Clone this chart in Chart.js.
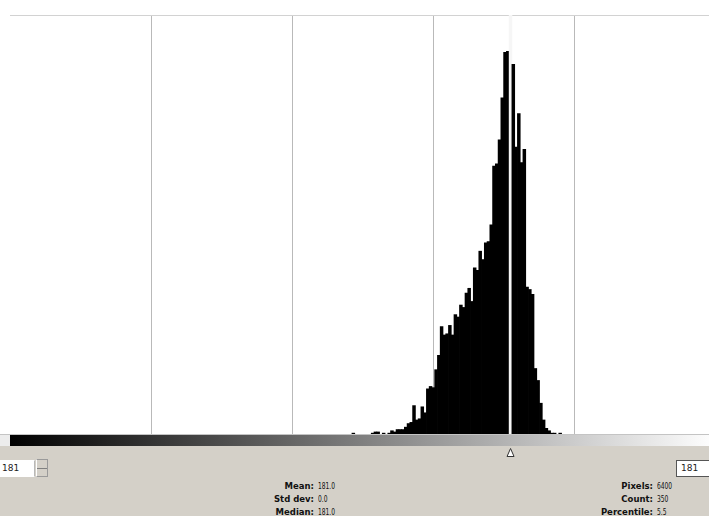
<!DOCTYPE html>
<html>
<head>
<meta charset="utf-8">
<script src="https://cdn.jsdelivr.net/npm/chart.js@4/dist/chart.umd.min.js"></script>
<style>
  html, body { margin: 0; padding: 0; }
  body { width: 709px; height: 516px; overflow: hidden; position: relative; background: #d4d0c8; font-family: "DejaVu Sans", sans-serif; }
  #plotbg { position: absolute; left: 0; top: 0; width: 709px; height: 434px; background: #fff; }
  #hist { position: absolute; left: 0; top: 0; }
  #baseline { position: absolute; left: 0; top: 434px; width: 709px; height: 1px; background: #c4c4c4; }
  #strip { position: absolute; left: 0; top: 435px; width: 10px; height: 11px; background: #ececec; }
  #ramp { position: absolute; left: 10px; top: 435px; width: 706px; height: 11px; background: linear-gradient(to right, #000, #fff); }
  #marker { position: absolute; left: 0; top: 447px; }
  .entry { position: absolute; top: 460px; height: 17px; background: #fff; box-sizing: border-box; font: 9px "DejaVu Sans", sans-serif; color: #222; line-height: 15px; }
  #lo { left: 0; width: 35px; border: 1px solid #fff; border-right: 1px solid #b8b8b8; padding-left: 1px; }
  #spin { position: absolute; left: 36px; top: 459px; width: 12px; height: 18px; box-sizing: border-box; border: 1px solid #9a9a9a; border-left: 1px solid #fff; background: #d4d0c8; }
  #spin::after { content: ""; position: absolute; left: 0; top: 8px; width: 10px; height: 1px; background: #808080; }
  #hi { left: 676px; width: 40px; border: 1px solid #555; padding-left: 4px; }
  .stat { position: absolute; font-size: 8.5px; line-height: 10px; color: #111; white-space: nowrap; }
  .lab { font-weight: bold; text-align: right; }
  .val { transform: scaleX(0.7); transform-origin: 0 0; }
</style>
</head>
<body>
<div id="plotbg"></div>
<canvas id="hist" width="716" height="434"></canvas>
<div id="baseline"></div>
<div id="strip"></div>
<div id="ramp"></div>
<svg id="marker" width="709" height="11"></svg>
<div class="entry" id="lo"></div>
<div id="spin"></div>
<div class="entry" id="hi"></div>
<div id="stats"></div>
<script>
// Histogram bins (intensity level -> pixel count); empty levels are left out
const levels = [124, 131, 132, 133, 135, 137, 138, 139, 140, 141, 142, 143, 144, 145,
  146, 147, 148, 149, 150, 151, 152, 153, 154, 155, 156, 157, 158, 159, 160,
  161, 162, 163, 164, 165, 166, 167, 168, 169, 170, 171, 172, 173, 174, 175,
  176, 177, 178, 179, 180, 181, 182, 183, 184, 185, 186, 187, 188, 189, 190,
  191, 192, 193, 194, 195, 196, 197, 199];
const counts = [1, 1, 2, 2, 1, 1, 3, 2, 4, 4, 4, 6, 9, 10,
  24, 12, 13, 23, 18, 38, 40, 39, 54, 66, 90, 83, 84, 91, 83,
  100, 98, 108, 106, 118, 122, 111, 139, 137, 153, 146, 160, 161, 175, 224,
  226, 246, 281, 319, 320, 350, 309, 240, 268, 227, 238, 123, 121, 117, 55,
  45, 26, 12, 5, 3, 1, 1, 1];

// Selected range and channel statistics
const selectedLevel = 181;
const gridLevels = [0, 51.2, 102.4, 153.6, 204.8, 256];
const statLeftLabels = ["Mean:", "Std dev:", "Median:"];
const statLeftValues = ["181.0", "0.0", "181.0"];
const statRightLabels = ["Pixels:", "Count:", "Percentile:"];
const statRightValues = ["6400", "350", "5.5"];

const maxCount = Math.max(...counts);

const chart = new Chart(document.getElementById("hist"), {
  type: "bar",
  data: {
    datasets: [{
      data: levels.map((lv, i) => ({ x: lv + 0.5, y: counts[i] })),
      backgroundColor: levels.map(lv => lv === selectedLevel ? "#f6f6f6" : "#000000"),
      borderWidth: 0,
      inflateAmount: 0,
      // slightly wider than one level so neighbouring columns overlap without seams
      barThickness: 3.5
    }]
  },
  options: {
    responsive: false,
    animation: false,
    events: [],
    layout: { padding: { left: 10, top: 15, right: 0, bottom: 0 } },
    plugins: { legend: { display: false }, tooltip: { enabled: false } },
    scales: {
      x: {
        type: "linear",
        min: 0,
        max: 256,
        offset: false,
        afterBuildTicks: s => { s.ticks = gridLevels.map(v => ({ value: v })); },
        ticks: { display: false },
        border: { display: false },
        grid: {
          offset: false,
          drawTicks: false,
          color: c => (c.tick && (c.tick.value === 0 || c.tick.value === 256)) ? "rgba(0,0,0,0)" : "#b9b9b9",
          lineWidth: 1
        }
      },
      y: {
        min: 0,
        max: maxCount,
        afterBuildTicks: s => { s.ticks = [{ value: maxCount }]; },
        ticks: { display: false },
        border: { display: false },
        grid: { drawTicks: false, color: "#d2d2d2", lineWidth: 1 }
      }
    }
  }
});

// Slider marker under the ramp at the selected level
(function () {
  const xs = chart.scales.x;
  const cx = xs.getPixelForValue(selectedLevel + 0.5);
  const svg = document.getElementById("marker");
  svg.innerHTML = '<polygon points="' + (cx - 3.5) + ',9.5 ' + (cx + 3.5) + ',9.5 ' + cx + ',1.5" fill="#ffffff" stroke="#333" stroke-width="1"/>';
})();

document.getElementById("lo").textContent = String(selectedLevel);
document.getElementById("hi").textContent = String(selectedLevel);

// Statistics block
(function () {
  const box = document.getElementById("stats");
  const rows = [481, 494, 507];
  function put(labels, values, rightEdge) {
    labels.forEach((t, i) => {
      const l = document.createElement("div");
      l.className = "stat lab";
      l.style.top = rows[i] + "px";
      l.style.right = (709 - rightEdge) + "px";
      l.textContent = t;
      box.appendChild(l);
      const v = document.createElement("div");
      v.className = "stat val";
      v.style.top = rows[i] + "px";
      v.style.left = (rightEdge + 4) + "px";
      v.textContent = values[i];
      box.appendChild(v);
    });
  }
  put(statLeftLabels, statLeftValues, 314);
  put(statRightLabels, statRightValues, 653);
})();
</script>
</body>
</html>
